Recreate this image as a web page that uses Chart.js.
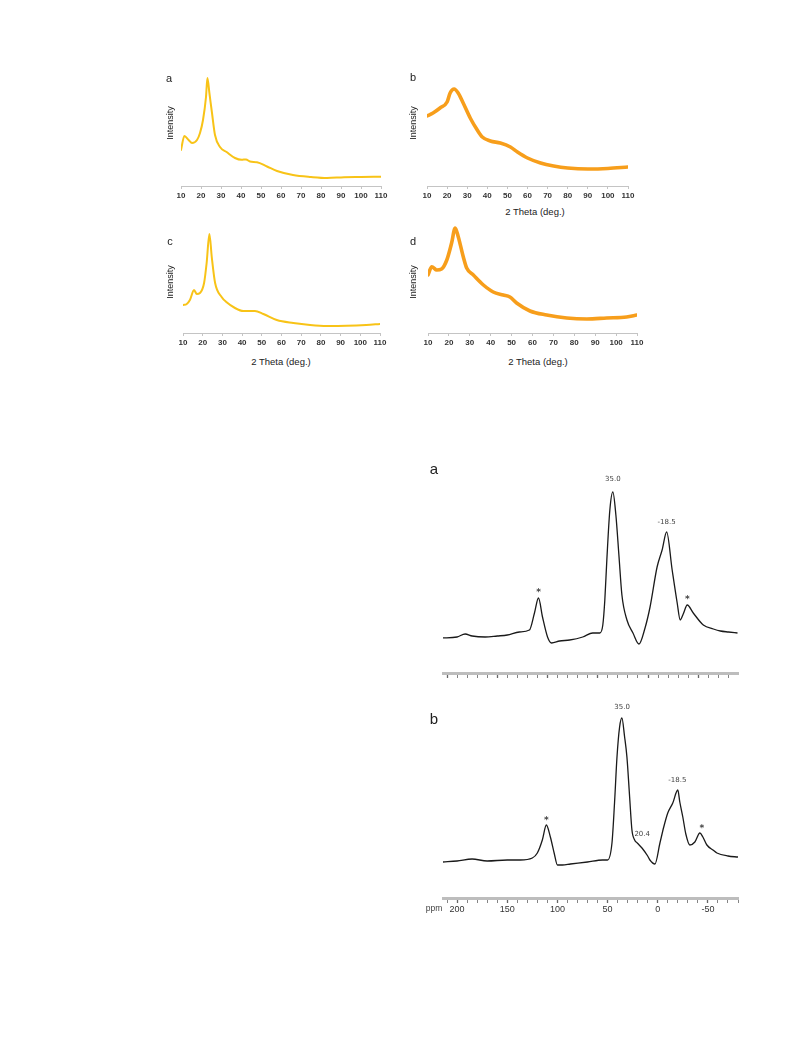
<!DOCTYPE html>
<html><head><meta charset="utf-8">
<script src="https://cdn.jsdelivr.net/npm/chart.js@4.4.1/dist/chart.umd.min.js"></script>
<style>
html,body{margin:0;padding:0;background:#fff;}
body{width:793px;height:1057px;position:relative;overflow:hidden;font-family:"Liberation Sans",Arial,sans-serif;}
.t{position:absolute;white-space:nowrap;color:#222;line-height:1;}
</style></head><body>
<script>
// ---------- XRD data (2 theta in degrees, intensity in a.u.) ----------
const xrdTicks = [10,20,30,40,50,60,70,80,90,100,110];

const xrdA_theta = [10,11.7,13.8,15.5,18,19.5,21,22.5,23.2,24.2,25.5,27,29.5,32.8,37,40.3,42.5,44.5,48,53,58,66,75,83,91.5,100,110];
const xrdA_int   = [360,500,460,430,460,530,660,890,1080,930,730,510,390,340,280,262,266,245,238,195,150,110,90,80,88,90,92];

const xrdB_theta = [10,13,16.5,20,21.5,23.5,25.5,28,31.5,35,37.5,41.5,46.5,51.5,55,60,66.5,73,80,90,100,110];
const xrdB_int   = [700,730,780,840,930,970,930,830,680,560,490,450,430,390,340,280,230,200,180,170,175,190];

const xrdC_theta = [10,11.9,13.5,15.6,17,18.6,20.7,22,23.4,24.6,26.3,29.6,32,36.4,40.6,46.5,50.8,57.6,66,74.5,83,93,103,110];
const xrdC_int   = [280,290,330,430,390,400,500,700,990,760,500,360,310,250,220,220,190,130,100,80,70,72,80,90];

const xrdD_theta = [10,11.8,14.2,16.5,19,21.3,23,24.5,26.9,28.5,31.7,36.5,41.2,46,49.2,52.4,58.8,66.8,76.4,86,95.5,105,110];
const xrdD_int   = [580,663,630,640,730,900,1050,960,760,650,580,480,410,380,360,300,220,180,150,140,150,160,180];

// ---------- NMR data (ppm, intensity a.u.) ----------
const nmrTickLabels = [200,150,100,50,0,-50];

const nmrA_ppm = [205,190,182,175,162,150,140,128,118,113,109,105,100,96,88,78,65,55,48,45,43,41,38,35,32,29,26,21,15,9,3,-2,-9,-14,-18.5,-24,-29,-32,-35,-39,-45,-55,-65,-72,-80,-89];
const nmrA_int = [2,3,6,4,3,4,5,8,10,27,42,23,3,-3,-1,0,3,7,7,15,40,80,130,148,125,85,45,20,7,-4,12,33,73,90,108,70,37,20,26,35,27,15,11,9,8,7];

const nmrB_ppm = [214,200,185,170,150,137,125,120,115,111,107,103,100,95,87,70,55,50,45.6,43,40.6,38,35.7,33,30.7,28,25.7,23,20.4,15.7,10,7.8,2.8,-2.2,-6,-10,-15,-20,-22,-25,-28,-32,-37,-42,-45,-49,-55,-59,-70,-80];
const nmrB_int = [0,1,3,1,2,2,4,9,22,37,25,8,-3,-3,-2,0,2,2,19,60,105,135,144,125,105,65,32,22,19,14,6,2,-2,19,35,49,59,72,60,45,28,17,20,29,25,17,12,9,6,5];

// annotations: text, ppm position, intensity position
const annA_text = ['35.0','-18.5','*','*'];
const annA_ppm  = [35,-18.5,109,-39];
const annA_int  = [161,118,47,40];
const annB_text = ['35.0','-18.5','20.4','*','*'];
const annB_ppm  = [35.5,-19.5,15.5,111,-44];
const annB_int  = [155,82,28,41,33];

// ---------- helpers ----------
function mkCanvas(rect, pad){
  const w = rect.r - rect.l + pad.l + pad.r;
  const h = rect.b - rect.t + pad.t + pad.axis;
  const c = document.createElement('canvas');
  c.width = w; c.height = h;
  c.style.cssText = 'position:absolute;left:'+(rect.l-pad.l)+'px;top:'+(rect.t-pad.t)+'px;width:'+w+'px;height:'+h+'px';
  document.body.appendChild(c);
  return c;
}
function txt(s, cx, cy, size, opt){
  opt = opt || {};
  const d = document.createElement('div');
  d.className = 't';
  d.textContent = s;
  d.style.left = cx+'px'; d.style.top = cy+'px';
  d.style.fontSize = size+'px';
  if (opt.color) d.style.color = opt.color;
  if (opt.family) d.style.fontFamily = opt.family;
  d.style.transform = 'translate(-50%,-50%)' + (opt.rot ? ' rotate(-90deg)' : '');
  document.body.appendChild(d);
}
function pts(xs, ys){ return xs.map((x,i)=>({x:x, y:ys[i]})); }

function xrdChart(rect, xs, ys, color, lw){
  const pad = {l:14, r:14, t:6, axis:18};
  const c = mkCanvas(rect, pad);
  new Chart(c, {
    type:'line',
    data:{datasets:[{data:pts(xs,ys), borderColor:color, borderWidth:lw, pointRadius:0,
      cubicInterpolationMode:'monotone', fill:false, borderCapStyle:'round', borderJoinStyle:'round'}]},
    options:{responsive:false, animation:false, events:[],
      layout:{padding:{left:pad.l, right:pad.r, top:pad.t, bottom:0}},
      plugins:{legend:{display:false}, tooltip:{enabled:false}},
      scales:{
        x:{type:'linear', min:10, max:110,
          afterFit:s=>{s.height = pad.axis;},
          afterBuildTicks:s=>{s.ticks = xrdTicks.map(v=>({value:v}));},
          ticks:{autoSkip:false, maxRotation:0, color:'#333', padding:2,
            font:{size:8, family:'"Liberation Sans", Arial, sans-serif', weight:'bold'}},
          grid:{drawOnChartArea:false, tickLength:3, tickColor:'#c4c4c4', color:'#c4c4c4'},
          border:{color:'#c4c4c4', width:1}},
        y:{display:false, min:0, max:(rect.b-rect.t)*10}
      }}
  });
}

function annPlugin(texts, xs, ys){
  return {id:'ann', afterDatasetsDraw(chart){
    const ctx = chart.ctx, sx = chart.scales.x, sy = chart.scales.y;
    ctx.save();
    ctx.fillStyle = '#444';
    ctx.textAlign = 'center'; ctx.textBaseline = 'middle';
    texts.forEach((t,i)=>{
      ctx.font = (t === '*' ? 'bold 9px' : '7px') + ' "DejaVu Sans", sans-serif';
      ctx.fillText(t, sx.getPixelForValue(xs[i]), sy.getPixelForValue(ys[i]));
    });
    ctx.restore();
  }};
}

function nmrChart(rect, xmin, xmax, ymin, ymax, xs, ys, showLabels, ann){
  const pad = {l:16, r:16, t:20, axis: showLabels ? 22 : 10};
  const c = mkCanvas(rect, pad);
  new Chart(c, {
    type:'line',
    data:{datasets:[{data:pts(xs,ys), borderColor:'#1a1a1a', borderWidth:1.3, pointRadius:0,
      cubicInterpolationMode:'monotone', fill:false}]},
    options:{responsive:false, animation:false, events:[],
      layout:{padding:{left:pad.l, right:pad.r, top:pad.t, bottom:0}},
      plugins:{legend:{display:false}, tooltip:{enabled:false}},
      scales:{
        x:{type:'linear', min:xmin, max:xmax, reverse:true,
          afterFit:s=>{s.height = pad.axis;},
          afterBuildTicks:s=>{
            const arr = [];
            for (let v = Math.ceil(xmin/10)*10; v <= xmax; v += 10) arr.push({value:v});
            s.ticks = arr;
          },
          ticks:{autoSkip:false, maxRotation:0, color:'#333', padding:1,
            font:{size:9, family:'"Liberation Sans", Arial, sans-serif'},
            callback:(v)=> (showLabels && nmrTickLabels.indexOf(v) >= 0) ? String(v) : ''},
          grid:{drawOnChartArea:false, tickLength:5, tickColor:'#666', color:'#666',
            tickWidth:(ctx)=> (ctx.tick && ctx.tick.value % 50 === 0) ? 1.3 : 0.8},
          border:{color:'#bdbdbd', width:3}},
        y:{display:false, min:ymin, max:ymax}
      }},
    plugins:[annPlugin(ann[0], ann[1], ann[2])]
  });
}

// ---------- XRD panels ----------
xrdChart({l:181, r:381, t:70, b:186}, xrdA_theta, xrdA_int, '#F8C317', 2);
xrdChart({l:427, r:628, t:70, b:186}, xrdB_theta, xrdB_int, '#F79E1B', 3.6);
xrdChart({l:183, r:380, t:226, b:333}, xrdC_theta, xrdC_int, '#F8C317', 2);
xrdChart({l:428, r:637, t:226, b:333}, xrdD_theta, xrdD_int, '#F79E1B', 3.6);

txt('a', 169, 78, 11);
txt('b', 413, 77, 11);
txt('c', 170, 241, 11);
txt('d', 413, 241, 11);
txt('Intensity', 170, 123, 9, {rot:true});
txt('Intensity', 413, 123, 9, {rot:true});
txt('Intensity', 170, 282, 9, {rot:true});
txt('Intensity', 413, 282, 9, {rot:true});
txt('2 Theta (deg.)', 535, 212, 9.5);
txt('2 Theta (deg.)', 281, 362, 9.5);
txt('2 Theta (deg.)', 538, 362, 9.5);

// ---------- NMR panels ----------
nmrChart({l:443, r:738, t:470, b:673}, -89.5, 204, -33, 170, nmrA_ppm, nmrA_int, false, [annA_text, annA_ppm, annA_int]);
nmrChart({l:443, r:738, t:700, b:898}, -80, 214, -36, 162, nmrB_ppm, nmrB_int, true, [annB_text, annB_ppm, annB_int]);

txt('a', 434, 468, 15);
txt('b', 434, 718, 15);
txt('ppm', 434, 908, 8.5, {color:'#444'});
</script>
</body></html>
